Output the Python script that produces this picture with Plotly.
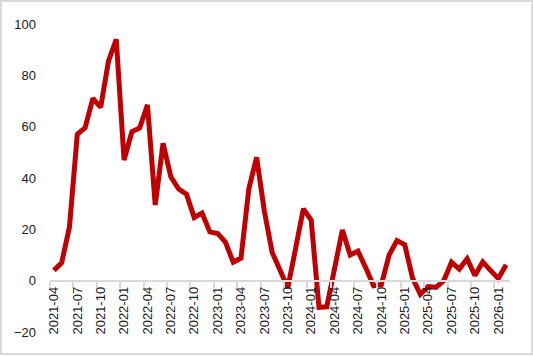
import plotly.graph_objects as go

months = [
    "2021-04", "2021-05", "2021-06", "2021-07", "2021-08", "2021-09", "2021-10", "2021-11", "2021-12",
    "2022-01", "2022-02", "2022-03", "2022-04", "2022-05", "2022-06", "2022-07", "2022-08", "2022-09",
    "2022-10", "2022-11", "2022-12", "2023-01", "2023-02", "2023-03", "2023-04", "2023-05", "2023-06",
    "2023-07", "2023-08", "2023-09", "2023-10", "2023-11", "2023-12", "2024-01", "2024-02", "2024-03",
    "2024-04", "2024-05", "2024-06", "2024-07", "2024-08", "2024-09", "2024-10", "2024-11", "2024-12",
    "2025-01", "2025-02", "2025-03", "2025-04", "2025-05", "2025-06", "2025-07", "2025-08", "2025-09",
    "2025-10", "2025-11", "2025-12", "2026-01", "2026-02",
]

values = [
    4, 7, 21, 57, 59.5, 71, 67.5, 85.5, 94,
    47, 58, 59.5, 68.5, 29.5, 53.5, 40.5, 35.7, 33.7,
    24.6, 26.3, 19, 18.4, 15, 7.2, 8.8, 35.7, 48,
    27, 11, 4.5, -2.8, 12.5, 28, 23.6, -10.4, -10.2,
    4.5, 19.7, 10, 11.5, 5, -2, -1.5, 10, 15.6,
    14, 1, -5.3, -2.3, -2.6, 0, 7.2, 4.5, 8.5,
    2, 7.3, 4, 0.8, 6.2,
]

y_ticks = [-20, 0, 20, 40, 60, 80, 100]

W, H = 533, 356
ML, MR, MT, MB = 50, 23, 24, 24
PW, PH = W - ML - MR, H - MT - MB

fig = go.Figure()
fig.add_trace(go.Scatter(
    x=months, y=values, mode="lines",
    line=dict(color="#C00000", width=5),
    hoverinfo="skip", showlegend=False,
))

font = dict(family="Liberation Sans, Arial, sans-serif", size=13, color="#1a1a1a")

fig.update_layout(
    width=W, height=H,
    margin=dict(l=ML, r=MR, t=MT, b=MB, pad=0),
    paper_bgcolor="white", plot_bgcolor="white",
    font=font,
    xaxis=dict(
        type="category",
        range=[-0.5, len(months) - 0.5],
        tickmode="linear", tick0=0, dtick=3,
        tickson="boundaries",
        tickangle=-90,
        ticks="outside", ticklen=6, tickwidth=2, tickcolor="#d9d9d9",
        showline=True, linecolor="#d9d9d9", linewidth=2,
        showgrid=False, zeroline=False,
        anchor="free", position=20 / 120,
        tickfont=font,
    ),
    yaxis=dict(
        range=[-20, 100],
        tickmode="array", tickvals=y_ticks,
        ticks="", showgrid=False, zeroline=False, showline=False,
        ticklabelstandoff=13,
        tickfont=font,
    ),
)

# light grey outer frame
px = lambda v: (v - ML) / PW
py = lambda v: (H - MB - v) / PH
fig.add_shape(type="rect", xref="paper", yref="paper",
              x0=px(1), x1=px(532), y0=py(354), y1=py(1),
              line=dict(color="#d9d9d9", width=2), fillcolor="rgba(0,0,0,0)")

fig.write_html("out.html")
